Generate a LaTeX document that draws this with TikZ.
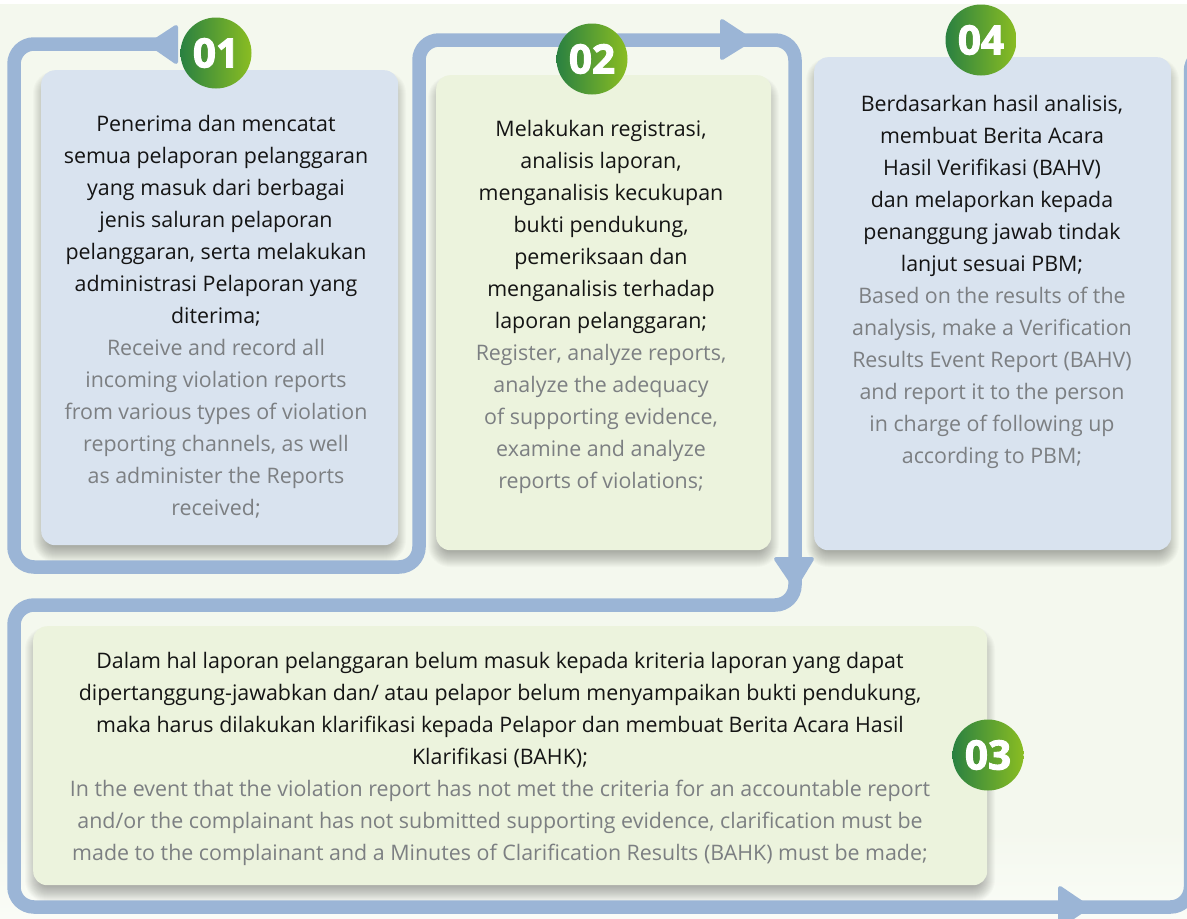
\documentclass[tikz,border=0pt]{standalone}
\usepackage{fontspec}
\setmainfont{Open Sans}
\newfontfamily\badgefont[BoldFeatures={FakeBold=2.4}]{Open Sans}
\definecolor{pagebg}{HTML}{F4F8EE}
\definecolor{pagelow}{HTML}{FAFCF7}
\definecolor{trackblue}{HTML}{9BB5D6}
\definecolor{cardblue}{HTML}{D9E3EF}
\definecolor{cardgreen}{HTML}{ECF3DD}
\definecolor{engrey}{HTML}{7C7F82}
\definecolor{badgeleft}{HTML}{2A8141}
\definecolor{badgeright}{HTML}{8ABD22}
\tikzset{
  track/.style={draw=trackblue,line width=13.5pt,rounded corners=20pt},
  tip/.style={fill=trackblue,draw=trackblue,line width=4pt,line join=round},
  bodytext/.style={align=center,inner sep=0pt,font=\fontsize{21.4}{32}\selectfont,text=black!92},
  badge/.style={circle,minimum size=71pt,inner sep=0pt,left color=badgeleft,right color=badgeright,
    text=white,font=\fontsize{40.5}{40}\badgefont\bfseries},
}
\begin{document}
\begin{tikzpicture}[x=1pt,y=-1pt]
    \clip (0,0) rectangle (1187,919);
    \fill[white] (0,0) rectangle (1187,919);
    \fill[pagebg] (0,4) rectangle (1187,830);
    \fill[top color=pagebg,bottom color=pagelow] (0,830) rectangle (1187,919);
    % cards with their soft shadows
    \foreach \n/\cx/\cy/\w/\h/\c in
    {carda/41/70/357/475/cardblue,
     cardb/436/75/335/475/cardgreen,
     cardc/33/626/954/259/cardgreen,
     cardd/814/57/357/493/cardblue}
    {
      \foreach \s in {-8,...,8}
      {
        \fill[black,opacity=0.021,rounded corners={(14+\s)*1pt}]
          (\cx-\s,\cy-\s+9) rectangle ++(\w+2*\s,\h+2*\s);
      }
      \node[draw=none,fill=\c,rounded corners=14pt,minimum width=\w pt,minimum height=\h pt,
        anchor=north west,inner sep=0pt] (\n) at (\cx,\cy) {};
    }
    % the line round the cards
    \coordinate (ta) at (170,44);
    \coordinate (tb) at (14,44);
    \coordinate (tc) at (14,567);
    \coordinate (td) at (419,567);
    \coordinate (te) at (419,40);
    \coordinate (tf) at (795,40);
    \coordinate (tg) at (795,605);
    \coordinate (th) at (14,605);
    \coordinate (ti) at (14,907);
    \coordinate (tj) at (1190.5,907);
    \coordinate (tk) at (1190.5,51);
    \coordinate (tl) at (1230,51);
    \draw[track] (ta) -- (tb) -- (tc) -- (td) -- (te) -- (tf) -- (tg) -- (th) -- (ti) -- (tj) -- (tk) -- (tl);
    % arrow heads
    \filldraw[tip] (176,27) -- (176,62) -- (150,44) -- cycle;
    \filldraw[tip] (722,21) -- (722,58) -- (751,40) -- cycle;
    \filldraw[tip] (776,559) -- (812,559) -- (795,587) -- cycle;
    \filldraw[tip] (1060,888) -- (1060,926) -- (1088,907) -- cycle;
    % texts
    \node[bodytext,anchor=north] (texta) at (216,115) {Penerima dan mencatat\\
      semua pelaporan pelanggaran\\
      yang masuk dari berbagai\\
      jenis saluran pelaporan\\
      pelanggaran, serta melakukan\\
      administrasi Pelaporan yang\\
      diterima;\\
      \textcolor{engrey}{Receive and record all}\\
      \textcolor{engrey}{incoming violation reports}\\
      \textcolor{engrey}{from various types of violation}\\
      \textcolor{engrey}{reporting channels, as well}\\
      \textcolor{engrey}{as administer the Reports}\\
      \textcolor{engrey}{received;}};
    \node[bodytext,anchor=north] (textb) at (601,120) {Melakukan registrasi,\\
      analisis laporan,\\
      menganalisis kecukupan\\
      bukti pendukung,\\
      pemeriksaan dan\\
      menganalisis terhadap\\
      laporan pelanggaran;\\
      \textcolor{engrey}{Register, analyze reports,}\\
      \textcolor{engrey}{analyze the adequacy}\\
      \textcolor{engrey}{of supporting evidence,}\\
      \textcolor{engrey}{examine and analyze}\\
      \textcolor{engrey}{reports of violations;}};
    \node[bodytext,anchor=north] (textc) at (500,652) {Dalam hal laporan pelanggaran belum masuk kepada kriteria laporan yang dapat\\
      dipertanggung-jawabkan dan/ atau pelapor belum menyampaikan bukti pendukung,\\
      maka harus dilakukan klarifikasi kepada Pelapor dan membuat Berita Acara Hasil\\
      Klarifikasi (BAHK);\\
      \textcolor{engrey}{In the event that the violation report has not met the criteria for an accountable report}\\
      \textcolor{engrey}{and/or the complainant has not submitted supporting evidence, clarification must be}\\
      \textcolor{engrey}{made to the complainant and a Minutes of Clarification Results (BAHK) must be made;}};
    \node[bodytext,anchor=north] (textd) at (992,95) {Berdasarkan hasil analisis,\\
      membuat Berita Acara\\
      Hasil Verifikasi (BAHV)\\
      dan melaporkan kepada\\
      penanggung jawab tindak\\
      lanjut sesuai PBM;\\
      \textcolor{engrey}{Based on the results of the}\\
      \textcolor{engrey}{analysis, make a Verification}\\
      \textcolor{engrey}{Results Event Report (BAHV)}\\
      \textcolor{engrey}{and report it to the person}\\
      \textcolor{engrey}{in charge of following up}\\
      \textcolor{engrey}{according to PBM;}};
    % numbered badges
    \node[badge] (numa) at (216,53) {01};
    \node[badge] (numb) at (592,59) {02};
    \node[badge] (numc) at (988,755) {03};
    \node[badge] (numd) at (981,40) {04};
\end{tikzpicture}
\end{document}
